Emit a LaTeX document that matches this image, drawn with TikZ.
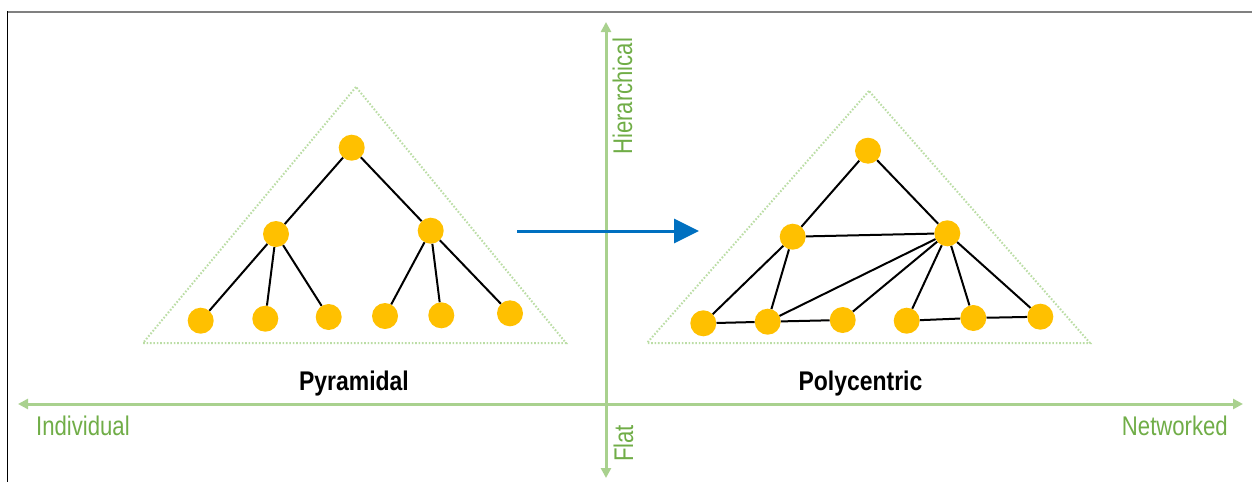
\documentclass[tikz,border=0pt]{standalone}
\usepackage{fontspec}
\setmainfont{Liberation Sans}
\usetikzlibrary{arrows.meta}
\definecolor{axisgreen}{HTML}{A9D18E}
\definecolor{labelgreen}{HTML}{70AD47}
\definecolor{dotgreen}{HTML}{BBDDA5}
\definecolor{nodegold}{HTML}{FFC000}
\definecolor{flowblue}{HTML}{0070C0}
\newcommand\narrowtext[2][0.82]{\scalebox{#1}[1]{#2}}
\begin{document}
\begin{tikzpicture}[x=1pt,y=-1pt,
  dot/.style={circle,fill=nodegold,draw=none,minimum size=26pt,inner sep=0pt},
  link/.style={line width=2pt,black},
  hull/.style={dotgreen,line width=2pt,dash pattern=on 1.6pt off 1.8pt},
  axis/.style={axisgreen,line width=3pt,{Triangle[length=10pt,width=10pt]}-{Triangle[length=10pt,width=10pt]}},
  axislabel/.style={text=labelgreen,inner sep=0pt,font=\fontsize{27}{30}\selectfont},
  title/.style={inner sep=0pt,anchor=base,font=\fontsize{27}{30}\selectfont\bfseries}]
\useasboundingbox (0,0) rectangle (1252,482);

% frame edges
\draw[gray,line width=2pt] (7,12) -- (1252,12);
\draw[black,line width=1.5pt] (7.5,11) -- (7.5,482);

% axes
\coordinate (west) at (18,404);
\coordinate (east) at (1243,404);
\coordinate (north) at (606,22);
\coordinate (south) at (606,478);
\draw[axis] (west) -- (east);
\draw[axis] (south) -- (north);
\node[axislabel,anchor=base west] (lblind) at (36,435) {\narrowtext{Individual}};
\node[axislabel,anchor=base east] (lblnet) at (1228,435) {\narrowtext{Networked}};
\node[axislabel,anchor=base west,rotate=90] (lblhier) at (632,155) {\narrowtext{Hierarchical}};
\node[axislabel,anchor=base west,rotate=90] (lblflat) at (633,462) {\narrowtext{Flat}};

% pyramid outlines
\coordinate (pa) at (356,87);
\coordinate (pb) at (143,343);
\coordinate (pc) at (566,343);
\draw[hull] (pa) -- (pb) -- (pc) -- cycle;
\coordinate (qa) at (869,91);
\coordinate (qb) at (647,343);
\coordinate (qc) at (1090,343);
\draw[hull] (qa) -- (qb) -- (qc) -- cycle;

% pyramidal organisation
\node[dot] (a) at (351.7,147.7) {};
\node[dot] (b) at (276,234) {};
\node[dot] (c) at (430.7,230.7) {};
\node[dot] (l1) at (200.7,320.7) {};
\node[dot] (l2) at (265.3,318.7) {};
\node[dot] (l3) at (328.7,317) {};
\node[dot] (l4) at (385,316) {};
\node[dot] (l5) at (441.3,315.3) {};
\node[dot] (l6) at (510,313.3) {};
\foreach \u/\v in {a/b,a/c,b/l1,b/l2,b/l3,c/l4,c/l5,c/l6}
  \draw[link] (\u) -- (\v);

% polycentric organisation
\node[dot] (ra) at (868,150.7) {};
\node[dot] (rb) at (792.7,236.7) {};
\node[dot] (rc) at (947.3,233.3) {};
\node[dot] (r1) at (703.3,323.3) {};
\node[dot] (r2) at (767.7,321.7) {};
\node[dot] (r3) at (842.7,320) {};
\node[dot] (r4) at (906.7,320.7) {};
\node[dot] (r5) at (973.3,318) {};
\node[dot] (r6) at (1040.3,316.7) {};
\foreach \u/\v in {ra/rb,ra/rc,rb/rc,rb/r1,rb/r2,r1/r2,r2/r3,r2/rc,r3/rc,r4/rc,r5/rc,r6/rc,r4/r5,r5/r6}
  \draw[link] (\u) -- (\v);

% titles
\node[title] (tpyr) at (354,390) {\narrowtext[0.85]{Pyramidal}};
\node[title] (tpoly) at (860.5,390) {\narrowtext[0.85]{Polycentric}};

% transition arrow
\coordinate (from) at (517,231);
\coordinate (to) at (699,231);
\draw[flowblue,line width=3pt,-{Triangle[length=25pt,width=24pt]}] (from) -- (to);
\end{tikzpicture}
\end{document}
